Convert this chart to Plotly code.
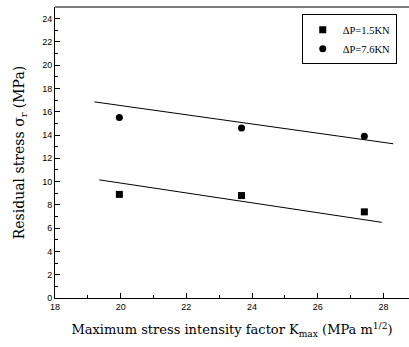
import plotly.graph_objects as go

# Data
k_max = [19.96, 23.68, 27.42]
stress_low = [8.9, 8.8, 7.4]      # ΔP=1.5KN
stress_high = [15.5, 14.6, 13.9]  # ΔP=7.6KN

fit_low_x = [19.35, 27.95]
fit_low_y = [10.15, 6.5]
fit_high_x = [19.2, 28.3]
fit_high_y = [16.85, 13.25]

x_ticks = [18, 20, 22, 24, 26, 28]
y_ticks = list(range(0, 25, 2))

serif = "DejaVu Serif, Liberation Serif, serif"
leg_serif = "Liberation Serif, Times New Roman, serif"
sans = "Liberation Sans, Arial, sans-serif"

fig = go.Figure()
fig.add_trace(go.Scatter(x=fit_high_x, y=fit_high_y, mode="lines",
                         line=dict(color="black", width=1), showlegend=False, hoverinfo="skip"))
fig.add_trace(go.Scatter(x=fit_low_x, y=fit_low_y, mode="lines",
                         line=dict(color="black", width=1), showlegend=False, hoverinfo="skip"))
fig.add_trace(go.Scatter(x=k_max, y=stress_low, mode="markers", name="ΔP=1.5KN",
                         marker=dict(symbol="square", size=7, color="black")))
fig.add_trace(go.Scatter(x=k_max, y=stress_high, mode="markers", name="ΔP=7.6KN",
                         marker=dict(symbol="circle", size=7, color="black")))

fig.update_layout(
    width=409, height=347,
    margin=dict(l=55, r=0, t=7, b=49),
    paper_bgcolor="white", plot_bgcolor="white",
    showlegend=True,
    legend=dict(x=0.697, y=0.975, xanchor="left", yanchor="top",
                bordercolor="black", borderwidth=1, bgcolor="white",
                font=dict(family=leg_serif, size=10.5, color="black"),
                tracegroupgap=0, itemwidth=30),
    shapes=[dict(type="line", xref="paper", yref="paper", x0=0, x1=1, y0=1, y1=1,
                 line=dict(color="black", width=1))],
)
fig.update_xaxes(
    range=[18, 28.78], tickvals=x_ticks, ticks="inside", ticklen=5, tickcolor="black",
    showline=True, linecolor="black", linewidth=1, mirror=False,
    showgrid=False, zeroline=False,
    minor=dict(ticks="inside", ticklen=3, dtick=1, tickcolor="black", showgrid=False),
    tickfont=dict(family=sans, size=9, color="black"),
    title=dict(text="Maximum stress intensity factor K<sub>max</sub> (MPa m<sup>1/2</sup>)",
               font=dict(family=serif, size=13, color="black"), standoff=14),
)
fig.update_yaxes(
    range=[0, 25], tickvals=y_ticks, ticks="inside", ticklen=5, tickcolor="black",
    showline=True, linecolor="black", linewidth=1, mirror=False,
    showgrid=False, zeroline=False,
    minor=dict(ticks="inside", ticklen=3, dtick=1, tickcolor="black", showgrid=False),
    tickfont=dict(family=sans, size=9, color="black"),
    title=dict(text="Residual stress σ<sub>r</sub> (MPa)",
               font=dict(family=serif, size=14, color="black"), standoff=14),
)

fig.write_html("out.html")
